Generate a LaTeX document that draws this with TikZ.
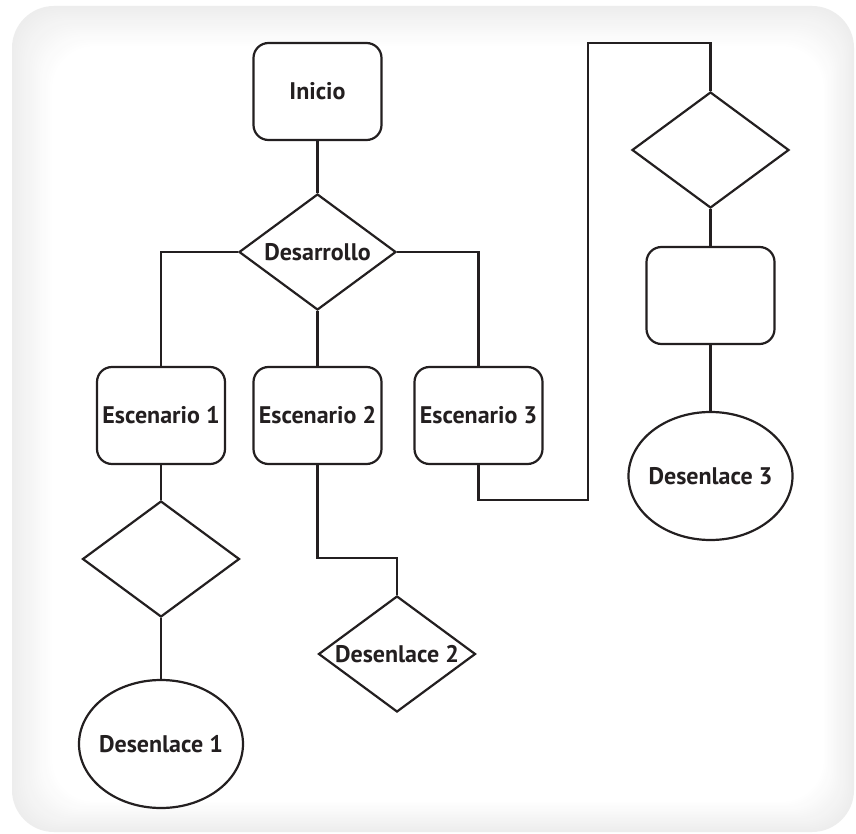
\documentclass[tikz,border=0pt]{standalone}
\usepackage{fontspec}
\setmainfont{PT Sans}
\usetikzlibrary{shapes.geometric}
\definecolor{ink}{HTML}{231F20}
\colorlet{borde}{black!7}

\begin{document}
\begin{tikzpicture}[x=1pt, y=-1pt,
    every node/.style={font=\bfseries\fontsize{24}{28}\selectfont, text=ink},
    caja/.style={draw=ink, line width=2.2pt, rectangle, rounded corners=15pt,
      minimum width=128pt, minimum height=97pt, inner sep=0pt},
    rombo/.style={draw=ink, line width=2.2pt, diamond, shape aspect=1.35,
      minimum width=157pt, minimum height=116pt, inner sep=0pt},
    fin/.style={draw=ink, line width=2.2pt, ellipse,
      minimum width=164pt, minimum height=128pt, inner ysep=0pt, inner xsep=-10pt},
    linea/.style={draw=ink, line width=2.2pt}]
  % page and soft grey frame
  \useasboundingbox (0, 0) rectangle (856, 834);
  \fill [white] (0, 0) rectangle (856, 834);
  \foreach \k in {0,...,20} {
    \pgfmathsetmacro\t{5*\k}
    \fill [white!\t!borde, rounded corners=42pt]
      (12+2*\k, 6+2*\k) rectangle (854-1.5*\k, 832-1.5*\k);
  }
  % main column
  \node [caja] (inicio) at (317.5, 91.5) {Inicio};
  \node [rombo] (desarrollo) at (317.5, 252) {Desarrollo};
  % scenarios
  \node [caja] (esc1) at (161, 415.5) {Escenario 1};
  \node [caja] (esc2) at (317.5, 415.5) {Escenario 2};
  \node [caja] (esc3) at (478.5, 415.5) {Escenario 3};
  % endings
  \node [rombo] (dec1) at (161, 559) {};
  \node [fin] (fin1) at (161, 744) {Desenlace 1};
  \node [rombo] (fin2) at (397, 654) {Desenlace 2};
  \node [rombo] (dec3) at (710.5, 150) {};
  \node [caja] (paso3) at (710.5, 295.5) {};
  \node [fin] (fin3) at (710.5, 476) {Desenlace 3};
  % bends
  \coordinate (codo2) at (317.5, 558);
  \coordinate (codo3a) at (588, 500);
  \coordinate (codo3b) at (588, 43);
  % connectors
  \draw [linea] (inicio) -- (desarrollo);
  \draw [linea] (desarrollo.west) -| (esc1.north);
  \draw [linea] (desarrollo.south) -- (esc2.north);
  \draw [linea] (desarrollo.east) -| (esc3.north);
  \draw [linea] (esc1) -- (dec1);
  \draw [linea] (dec1) -- (fin1);
  \draw [linea] (esc2.south) -- (codo2) -| (fin2.north);
  \draw [linea] (esc3.south) |- (codo3a) -- (codo3b) -| (dec3.north);
  \draw [linea] (dec3) -- (paso3);
  \draw [linea] (paso3) -- (fin3);
\end{tikzpicture}
\end{document}
